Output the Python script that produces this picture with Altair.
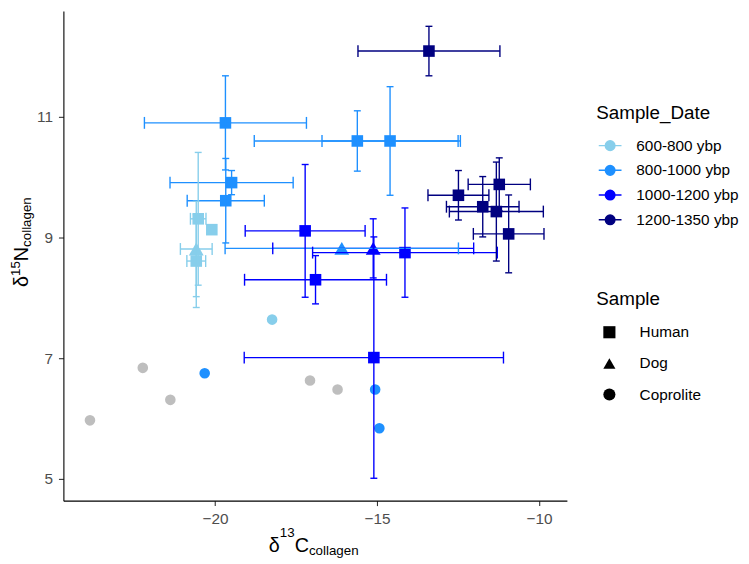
import altair as alt
import pandas as pd
import numpy as np

nan = np.nan

# ---------------- data ----------------
sample = (["Human"] * 6
          + ["Human"] * 4 + ["Dog"]
          + ["Human"] * 5 + ["Dog"] + ["Coprolite"] * 3
          + ["Human", "Human", "Human", "Dog", "Coprolite"]
          + ["Coprolite"] * 5)
date = (["1200-1350 ybp"] * 6 + ["1000-1200 ybp"] * 5 + ["800-1000 ybp"] * 9
        + ["600-800 ybp"] * 5 + ["NA"] * 5)
d13c = [-13.40, -12.49, -11.23, -11.74, -11.32, -10.94,
        -17.22, -16.90, -14.14, -15.10, -15.12,
        -19.68, -19.49, -19.67, -15.61, -14.60, -16.09, -20.32, -15.06, -14.93,
        -20.52, -20.10, -20.58, -20.58, -18.24,
        -23.86, -22.23, -21.38, -17.07, -16.22]
d15n = [12.09, 9.70, 9.88, 9.51, 9.43, 9.06,
        9.11, 8.30, 8.75, 7.01, 8.82,
        10.90, 9.91, 9.61, 10.60, 10.60, 8.82, 6.75, 6.48, 5.84,
        9.31, 9.13, 8.61, 8.81, 7.64,
        5.97, 6.84, 6.31, 6.63, 6.48]
c_err = [2.19, 0.94, 0.96, 1.12, 1.45, 1.09,
         1.85, 2.19, 2.85, 4.00, 3.10,
         2.50, 1.90, 1.19, 3.18, 2.10, 3.60, nan, nan, nan,
         0.24, nan, 0.29, 0.49, nan,
         nan, nan, nan, nan, nan]
n_err = [0.41, 0.41, 0.44, 0.50, 0.82, 0.645,
         1.10, 0.40, 0.74, 2.00, 0.49,
         0.78, 0.20, 0.70, 0.50, 0.90, nan, nan, nan, nan,
         1.10, nan, 0.77, 0.79, nan,
         nan, nan, nan, nan, nan]

date_levels = ["600-800 ybp", "800-1000 ybp", "1000-1200 ybp", "1200-1350 ybp"]
date_colors = ["#87CEEB", "#1E90FF", "#0000FF", "#000080"]
sample_levels = ["Human", "Dog", "Coprolite"]
sample_shapes = ["square", "triangle-up", "circle"]
x_ticks = [-20, -15, -10]
y_ticks = [5, 7, 9, 11]

# ---------------- table ----------------
df = pd.DataFrame({"sample": sample, "date": date, "c13": d13c, "n15": d15n,
                   "cerr": c_err, "nerr": n_err})
df["xmin"] = df.c13 - df.cerr
df["xmax"] = df.c13 + df.cerr
df["ymin"] = df.n15 - df.nerr
df["ymax"] = df.n15 + df.nerr
dated = df[df.date != "NA"]
undated = df[df.date == "NA"]
hbars = dated[dated.cerr.notna()]
vbars = dated[dated.nerr.notna()]

FONT = "Liberation Sans"
xs = alt.Scale(domain=[-24.68, -9.143], nice=False, zero=False)
ys = alt.Scale(domain=[4.639, 12.754], nice=False, zero=False)
cs = alt.Scale(domain=date_levels, range=date_colors)
ss = alt.Scale(domain=sample_levels, range=sample_shapes)

xaxis = alt.Axis(values=x_ticks, title=None, grid=False)
yaxis = alt.Axis(values=y_ticks, title=None, grid=False)

sym_path = ("M-1,0L1,0M-0.42,0A0.42,0.42,0,1,1,0.42,0"
            "A0.42,0.42,0,1,1,-0.42,0Z")
leg_color = alt.Legend(title="Sample_Date", orient="none", legendX=538.7, legendY=94.6,
                       symbolType=sym_path, symbolSize=529, symbolStrokeWidth=1.5,
                       symbolOffset=1.5, labelOffset=14, rowPadding=4, titlePadding=10,
                       padding=0)
leg_shape = alt.Legend(title="Sample", orient="none", legendX=538.7, legendY=282,
                       symbolSize=150, symbolFillColor="black", symbolStrokeColor="black",
                       symbolStrokeWidth=0, symbolOffset=5.5, labelOffset=22.8,
                       rowPadding=14.5, titlePadding=16, padding=0)


def X(f):
    return alt.X(f"{f}:Q", scale=xs, axis=xaxis)


def Y(f):
    return alt.Y(f"{f}:Q", scale=ys, axis=yaxis)


fill = alt.Fill("date:N", scale=cs, legend=leg_color)
stroke = alt.Stroke("date:N", scale=cs, legend=leg_color)
shape = alt.Shape("sample:N", scale=ss, legend=leg_shape)

layers = []
sizes = {"Human": 137, "Dog": 225, "Coprolite": 115}

# grey (undated) coprolites
layers.append(alt.Chart(undated).mark_point(filled=True, opacity=1, size=sizes["Coprolite"],
                                            shape="circle", color="#BEBEBE", strokeWidth=0)
              .encode(x=X("c13"), y=Y("n15")))

for s in sample_levels:
    sub = dated[dated["sample"] == s]
    layers.append(alt.Chart(sub).mark_point(filled=True, opacity=1, size=sizes[s], strokeWidth=0)
                  .encode(x=X("c13"), y=Y("n15"), fill=fill, stroke=stroke, shape=shape))

LW = 1.4
# horizontal error bars
layers.append(alt.Chart(hbars).mark_rule(strokeWidth=LW)
              .encode(x=X("xmin"), x2="xmax:Q", y=Y("n15"), stroke=stroke))
for f in ["xmin", "xmax"]:
    layers.append(alt.Chart(hbars).mark_rule(strokeWidth=LW, yOffset=-6, y2Offset=6)
                  .encode(x=X(f), y=Y("n15"), y2="n15:Q", stroke=stroke))
# vertical error bars
layers.append(alt.Chart(vbars).mark_rule(strokeWidth=LW)
              .encode(x=X("c13"), y=Y("ymin"), y2="ymax:Q", stroke=stroke))
for f in ["ymin", "ymax"]:
    layers.append(alt.Chart(vbars).mark_rule(strokeWidth=LW, xOffset=-3.5, x2Offset=3.5)
                  .encode(x=X("c13"), x2="c13:Q", y=Y(f), stroke=stroke))

# axis titles with super/subscripts
one = pd.DataFrame({"a": [0]})


def txt(s, x, y, size, angle=0):
    return (alt.Chart(one).mark_text(text=s, align="left", baseline="alphabetic",
                                     fontSize=size, font=FONT, angle=angle, color="black")
            .encode(x=alt.value(x), y=alt.value(y)))


BIG, SMALL = 20, 13.5
layers += [
    txt("δ", 207.7, 547, BIG),
    txt("13", 218.8, 531.5, SMALL),
    txt("C", 233.8, 547, BIG),
    txt("collagen", 248.2, 549.5, SMALL),
    txt("δ", -35.5, 279, BIG, 270),
    txt("15", -43.5, 267.9, SMALL, 270),
    txt("N", -35.5, 252.9, BIG, 270),
    txt("collagen", -33, 238.5, SMALL, 270),
]

chart = (alt.layer(*layers)
         .properties(width=509, height=495,
                     autosize=alt.AutoSizeParams(type="none"),
                     padding={"left": 56, "top": 0, "right": 176, "bottom": 60})
         .configure_view(stroke=None)
         .configure_axis(domainColor="black", domainWidth=1.1, tickColor="#333333",
                         tickWidth=1.1, tickSize=5, labelColor="#4D4D4D",
                         labelFont=FONT, labelFontSize=15.5, labelPadding=6)
         .configure_legend(titleFont=FONT, titleFontSize=19, titleFontWeight="normal",
                           titleColor="black", labelFont=FONT, labelFontSize=15.5,
                           labelColor="black", symbolBaseFillColor="black",
                           symbolBaseStrokeColor="black"))

chart.save("out.html", embed_options={"renderer": "svg", "actions": False})
